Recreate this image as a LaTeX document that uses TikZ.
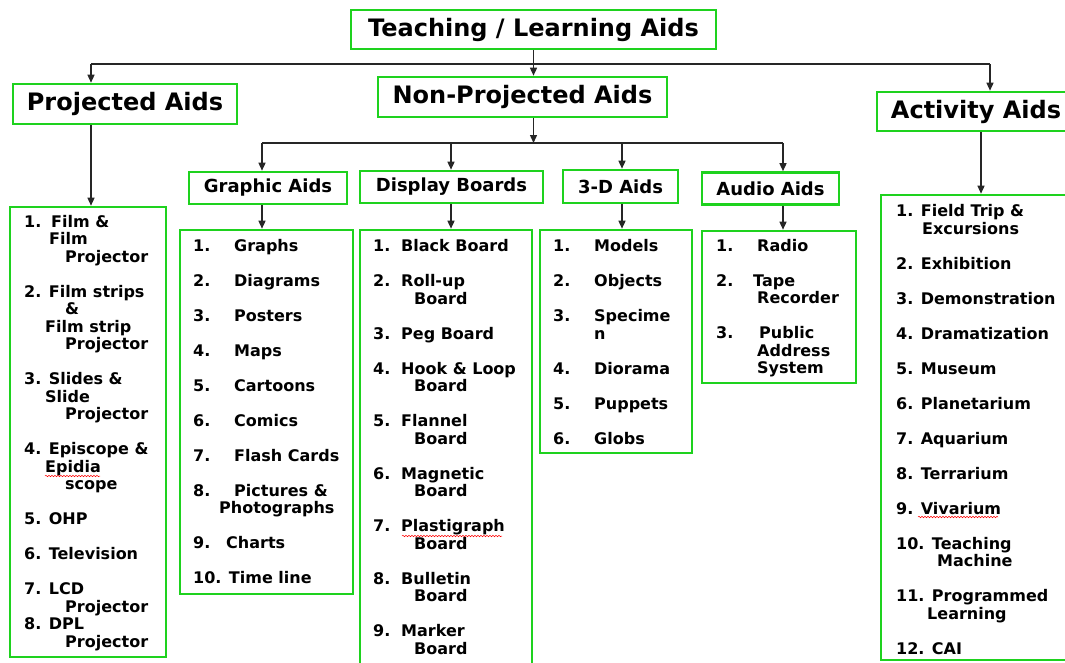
\documentclass[tikz,border=0pt]{standalone}
\usepackage{fontspec}
\setmainfont{DejaVu Sans}
\usepackage{tikz}
\usetikzlibrary{arrows.meta, positioning, decorations.pathmorphing}
\definecolor{aidgreen}{RGB}{30,210,30}
\newcommand{\lnum}[2][41pt]{\makebox[#1][l]{#2}}

\begin{document}
\begin{tikzpicture}[x=1pt, y=-1pt, every node/.style={font=\bfseries},
    aidbox/.style={draw=aidgreen, line width=2.6pt, fill=white, inner sep=0pt},
    headbig/.style={aidbox, font=\fontsize{24}{28}\selectfont\bfseries},
    headsmall/.style={aidbox, font=\fontsize{18}{21}\selectfont\bfseries},
    listtext/.style={anchor=north west, inner sep=0pt, align=left, font=\fontsize{16}{17.5}\selectfont\bfseries},
    arr/.style={-{Triangle[length=8pt, width=7pt]}, line width=1.4pt, draw=black!85},
    squiggle/.style={draw=red, line width=0.5pt, decorate, decoration={snake, amplitude=0.7pt, segment length=3pt}}]
    \useasboundingbox (0,0) rectangle (1065,662);

    % Top level
    \node[headbig, minimum width=365pt, minimum height=39pt] (title) at (533.5,29.5) {Teaching / Learning Aids};
    \node[headbig, minimum width=224pt, minimum height=40pt] (proj) at (125,104) {Projected Aids};
    \node[headbig, minimum width=289pt, minimum height=40pt] (nonproj) at (522.5,97) {Non-Projected Aids};
    \node[headbig, minimum width=198pt, minimum height=39pt] (act) at (976,111.5) {Activity Aids};

    % Non-projected groups
    \node[headsmall, minimum width=158pt, minimum height=32pt] (ghead) at (268,188) {Graphic Aids};
    \node[headsmall, minimum width=183pt, minimum height=32pt] (dhead) at (451.5,187) {Display Boards};
    \node[headsmall, minimum width=115pt, minimum height=33pt] (thead) at (620.5,186.5) {3-D Aids};
    \node[headsmall, minimum width=137pt, minimum height=32pt] (ahead) at (770.5,188.5) {Audio Aids};

    % List frames
    \node[aidbox, minimum width=156pt, minimum height=450pt] (projlist) at (88,432) {};
    \node[aidbox, minimum width=173pt, minimum height=364pt] (glist) at (266.5,412) {};
    \node[aidbox, minimum width=172pt, minimum height=438pt] (dlist) at (446,449) {};
    \node[aidbox, minimum width=152pt, minimum height=223pt] (tlist) at (616,341.5) {};
    \node[aidbox, minimum width=154pt, minimum height=152pt] (alist) at (779,307) {};
    \node[aidbox, minimum width=200pt, minimum height=465pt] (actlist) at (981,427.5) {};

    % List texts
    \node[listtext] (projtxt) at (24,214) {\rule{0pt}{13pt}\lnum[27pt]{1.}Film \&\\
        \hspace*{25pt}Film\\
        \hspace*{41pt}Projector\\[17.5pt]
        2. Film strips\\
        \hspace*{41pt}\&\\
        \hspace*{21pt}Film strip\\
        \hspace*{41pt}Projector\\[17.5pt]
        3. Slides \&\\
        \hspace*{21pt}Slide\\
        \hspace*{41pt}Projector\\[17.5pt]
        4. Episcope \&\\
        \hspace*{21pt}Epidia\\
        \hspace*{41pt}scope\\[17.5pt]
        5. OHP\\[17.5pt]
        6. Television\\[17.5pt]
        7. LCD\\
        \hspace*{41pt}Projector\\
        8. DPL\\
        \hspace*{41pt}Projector};
    \node[listtext] (gtxt) at (193,238) {\rule{0pt}{13pt}\lnum{1.}Graphs\\[17.5pt]
        \lnum{2.}Diagrams\\[17.5pt]
        \lnum{3.}Posters\\[17.5pt]
        \lnum{4.}Maps\\[17.5pt]
        \lnum{5.}Cartoons\\[17.5pt]
        \lnum{6.}Comics\\[17.5pt]
        \lnum{7.}Flash Cards\\[17.5pt]
        \lnum{8.}Pictures \&\\
        \hspace*{26pt}Photographs\\[17.5pt]
        \lnum[33pt]{9.}Charts\\[17.5pt]
        10. Time line};
    \node[listtext] (dtxt) at (373,238.7) {\rule{0pt}{13pt}\lnum[28pt]{1.}Black Board\\[17.5pt]
        \lnum[28pt]{2.}Roll-up\\
        \hspace*{41pt}Board\\[17.5pt]
        \lnum[28pt]{3.}Peg Board\\[17.5pt]
        \lnum[28pt]{4.}Hook \& Loop\\
        \hspace*{41pt}Board\\[17.5pt]
        \lnum[28pt]{5.}Flannel\\
        \hspace*{41pt}Board\\[17.5pt]
        \lnum[28pt]{6.}Magnetic\\
        \hspace*{41pt}Board\\[17.5pt]
        \lnum[28pt]{7.}Plastigraph\\
        \hspace*{41pt}Board\\[17.5pt]
        \lnum[28pt]{8.}Bulletin\\
        \hspace*{41pt}Board\\[17.5pt]
        \lnum[28pt]{9.}Marker\\
        \hspace*{41pt}Board};
    \node[listtext] (ttxt) at (553,238.7) {\rule{0pt}{13pt}\lnum{1.}Models\\[17.5pt]
        \lnum{2.}Objects\\[17.5pt]
        \lnum{3.}Specime\\
        \hspace*{41pt}n\\[17.5pt]
        \lnum{4.}Diorama\\[17.5pt]
        \lnum{5.}Puppets\\[17.5pt]
        \lnum{6.}Globs};
    \node[listtext] (atxt) at (716,238) {\rule{0pt}{13pt}\lnum{1.}Radio\\[17.5pt]
        \lnum[37pt]{2.}Tape\\
        \hspace*{41pt}Recorder\\[17.5pt]
        \lnum[43pt]{3.}Public\\
        \hspace*{41pt}Address\\
        \hspace*{41pt}System};
    \node[listtext] (acttxt) at (896,203.7) {\rule{0pt}{13pt}1. Field Trip \&\\
        \hspace*{26pt}Excursions\\[17.5pt]
        2. Exhibition\\[17.5pt]
        3. Demonstration\\[17.5pt]
        4. Dramatization\\[17.5pt]
        5. Museum\\[17.5pt]
        6. Planetarium\\[17.5pt]
        7. Aquarium\\[17.5pt]
        8. Terrarium\\[17.5pt]
        9. Vivarium\\[17.5pt]
        10. Teaching\\
        \hspace*{41pt}Machine\\[17.5pt]
        11. Programmed\\
        \hspace*{31pt}Learning\\[17.5pt]
        12. CAI};

    % Spell-check marks
    \draw[squiggle] (45,476) -- (100,476);
    \draw[squiggle] (402,536) -- (502,536);
    \draw[squiggle] (918,517) -- (998,517);

    % Arrows
    \coordinate (cpro) at (91,64);
    \coordinate (cact) at (990,64);
    \draw[line width=1.4pt, draw=black!85] (cpro) -- (cact);
    \draw[arr] (title.south) -- (title.south |- nonproj.north);
    \draw[arr] (cpro) -- (cpro |- proj.north);
    \draw[arr] (cpro |- proj.south) -- (cpro |- projlist.north);
    \draw[arr] (cact) -- (cact |- act.north);
    \draw[arr] (actlist.north |- act.south) -- (actlist.north);

    \coordinate (cgra) at (262,143);
    \coordinate (cdis) at (451,143);
    \coordinate (cthr) at (622,143);
    \coordinate (caud) at (783,143);
    \draw[arr] (title.south |- nonproj.south) -- (title.south |- cgra);
    \draw[line width=1.4pt, draw=black!85] (cgra) -- (caud);
    \draw[arr] (cgra) -- (cgra |- ghead.north);
    \draw[arr] (cdis) -- (cdis |- dhead.north);
    \draw[arr] (cthr) -- (cthr |- thead.north);
    \draw[arr] (caud) -- (caud |- ahead.north);
    \draw[arr] (cgra |- ghead.south) -- (cgra |- glist.north);
    \draw[arr] (cdis |- dhead.south) -- (cdis |- dlist.north);
    \draw[arr] (cthr |- thead.south) -- (cthr |- tlist.north);
    \draw[arr] (caud |- ahead.south) -- (caud |- alist.north);
\end{tikzpicture}
\end{document}
